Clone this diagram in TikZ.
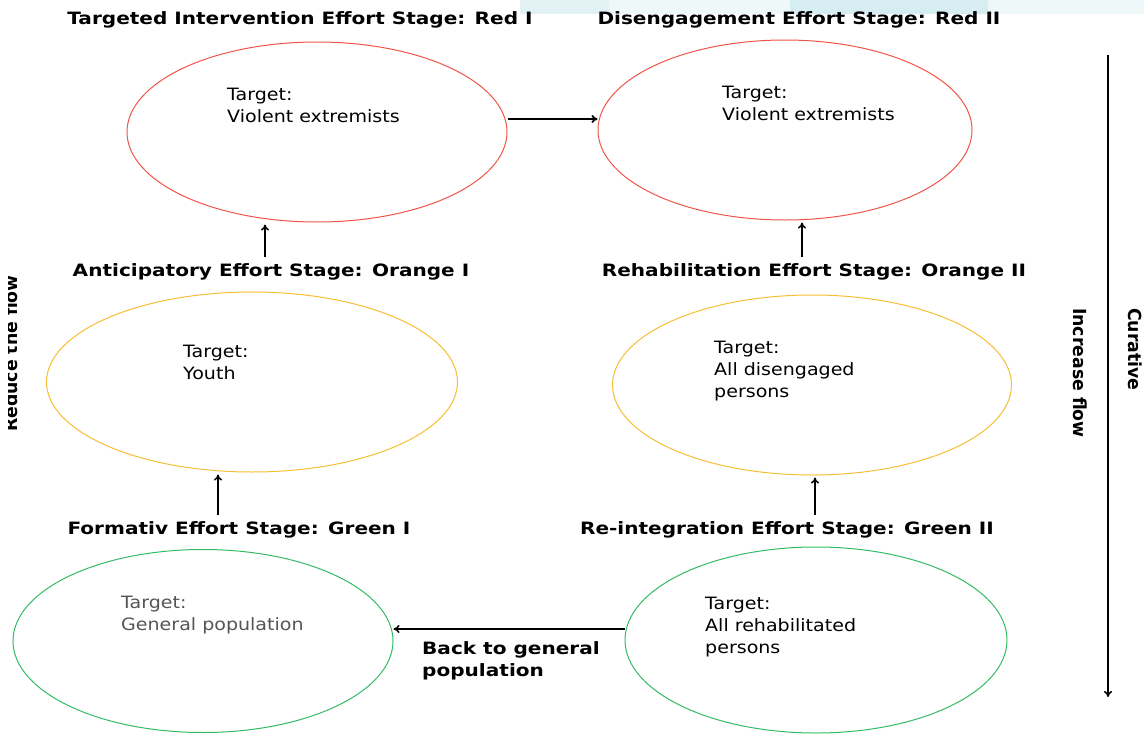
\documentclass[tikz,border=0pt]{standalone}
\usepackage{fontspec}
\setmainfont{DejaVu Sans}
\newfontfamily\widefont[FakeStretch=1.18]{DejaVu Sans}
\newfontfamily\targetfont[FakeStretch=1.12]{DejaVu Sans}
\newfontfamily\narrowfont[FakeStretch=0.96]{DejaVu Sans}
\usetikzlibrary{arrows.meta}
\usetikzlibrary{shapes.geometric}
\definecolor{StageRed}{RGB}{240,84,72}
\definecolor{StageOrange}{RGB}{246,190,52}
\definecolor{StageGreen}{RGB}{52,186,102}
\definecolor{TextGrey}{RGB}{85,85,85}
\definecolor{BandLight}{RGB}{239,248,249}
\definecolor{BandMid}{RGB}{226,241,244}
\definecolor{BandDark}{RGB}{214,237,242}
\tikzset{
  diagram style/.style={
    x=1pt, y=-1pt,
    >={To[length=6pt,width=8pt]},
  },
  stage/.style={
    draw=#1,
    ellipse,
    line width=1pt,
    inner sep=0pt,
    minimum width=380,
    minimum height=180,
  },
  stage title/.style={
    font=\widefont\bfseries\fontsize{17}{22}\selectfont,
    inner sep=8pt,
  },
  target text/.style={
    anchor=north west,
    align=left,
    inner sep=0pt,
    font=\targetfont\fontsize{17}{22}\selectfont,
  },
  flow/.style={
    ->,
    line width=1.5pt,
  },
  side text/.style={
    font=\narrowfont\bfseries\fontsize{18}{20}\selectfont,
    inner sep=0pt,
  },
}

\begin{document}
\begin{tikzpicture}[diagram style]
  \useasboundingbox (0,0) rectangle (1144,734);
  % light band along the top edge
  \fill[BandLight] (520,0) rectangle (1144,14);
  \fill[BandMid] (520,0) rectangle (609,14);
  \fill[BandDark] (790,0) rectangle (988,14);

  % stages
  \node[stage=StageRed] (red1) at (317,132) {};
  \node[stage=StageRed, minimum width=374] (red2) at (785,130) {};
  \node[stage=StageOrange, minimum width=411] (orange1) at (252,382) {};
  \node[stage=StageOrange, minimum width=399] (orange2) at (812,385) {};
  \node[stage=StageGreen, minimum height=183] (green1) at (203,641) {};
  \node[stage=StageGreen, minimum width=382, minimum height=186] (green2) at (816,640) {};

  % stage titles
  \node[stage title] (red1 title) at (300,20) {Targeted Intervention Effort Stage: Red I};
  \node[stage title] (red2 title) at (799,20) {Disengagement Effort Stage: Red II};
  \node[stage title] (orange1 title) at (271,272) {Anticipatory Effort Stage: Orange I};
  \node[stage title] (orange2 title) at (814,272) {Rehabilitation Effort Stage: Orange II};
  \node[stage title] (green1 title) at (239,530) {Formativ Effort Stage: Green I};
  \node[stage title] (green2 title) at (787,530) {Re-integration Effort Stage: Green II};

  % targets
  \node[target text] (red1 target) at (227,88) {Target:\\Violent extremists};
  \node[target text] (red2 target) at (722,86) {Target:\\Violent extremists};
  \node[target text] (orange1 target) at (183,345) {Target:\\Youth};
  \node[target text] (orange2 target) at (714,341) {Target:\\All disengaged\\persons};
  \node[target text, TextGrey] (green1 target) at (121,596) {Target:\\General population};
  \node[target text] (green2 target) at (705,597) {Target:\\All rehabilitated\\persons};

  % connectors
  \draw[flow, line width=1.8pt] ([yshift=13]red1.east) -- ([yshift=11]red2.west);
  \draw[flow] ([xshift=-6,yshift=-1]orange1 title.north) -- ([xshift=-52,yshift=-2]red1.south);
  \draw[flow] ([xshift=-12,yshift=-1]orange2 title.north) -- ([xshift=17,yshift=-2]red2.south);
  \draw[flow] ([xshift=-21,yshift=-1]green1 title.north) -- ([xshift=-34,yshift=-2]orange1.south);
  \draw[flow] ([xshift=28,yshift=-1]green2 title.north) -- ([xshift=3,yshift=-2]orange2.south);
  \draw[flow] ([yshift=11]green2.west) -- ([yshift=12]green1.east);
  \node[stage title, anchor=north west, align=left, inner sep=0pt] (back label) at (422,641)
    {Back to general\\population};

  % overall flow
  \coordinate (flow top) at (1108,55);
  \coordinate (flow end) at (1108,697);
  \draw[flow] (flow top) -- (flow end);
  \node[side text, rotate=-90, anchor=south west] (increase label) at (1073,308) {Increase flow};
  \node[side text, rotate=-90, anchor=north west] (curative label) at (1142,308) {Curative};
  \begin{scope}
    \clip (8,0) rectangle (40,734);
    \node[side text, rotate=90, anchor=base west] (reduce label) at (17,432) {Reduce the flow};
  \end{scope}
\end{tikzpicture}
\end{document}
